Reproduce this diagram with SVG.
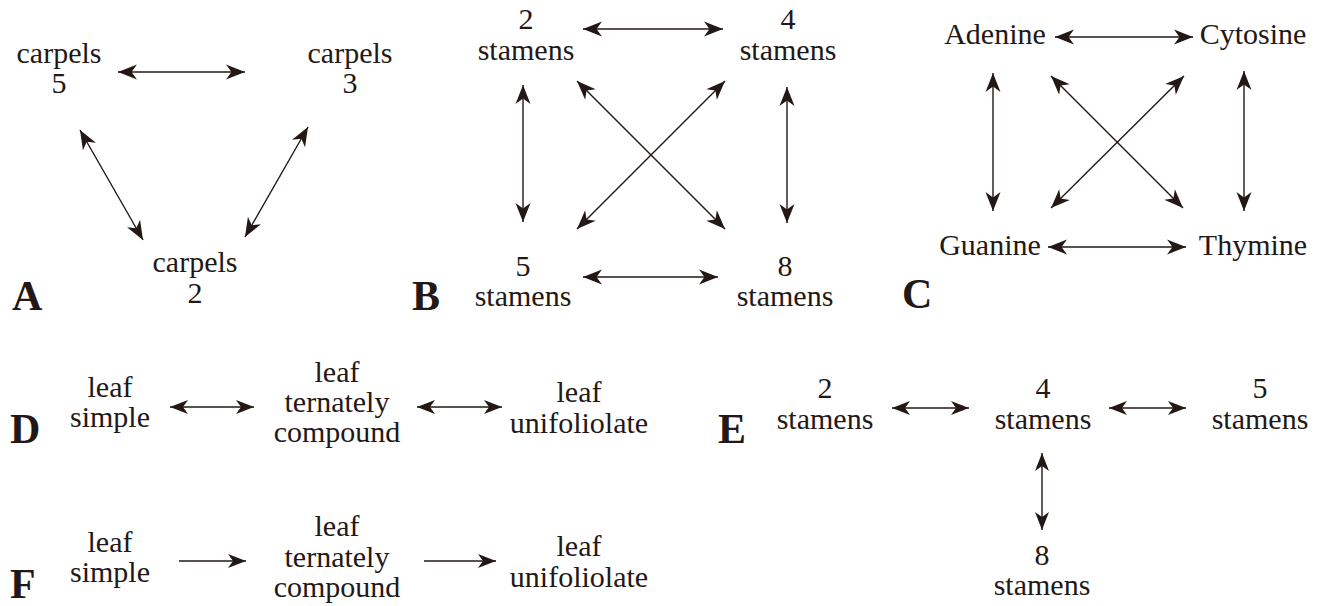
<svg xmlns="http://www.w3.org/2000/svg" width="1320" height="606" viewBox="0 0 1320 606">
<style>
text{font-family:"Liberation Serif","Times New Roman",serif;fill:#231815;}
.n{font-size:30px;text-anchor:middle;}
.lbl{font-size:42px;font-weight:bold;}
.c{stroke:#231815;stroke-width:1.4;fill:none;}
.big{marker-start:url(#hb);marker-end:url(#hb);}
.sm{marker-start:url(#hs);marker-end:url(#hs);}
.one{marker-end:url(#hs);}
</style>
<defs>
<marker id="hb" markerUnits="userSpaceOnUse" markerWidth="20" markerHeight="16" viewBox="0 0 20 16" refX="20" refY="8" orient="auto-start-reverse"><path d="M20,8 L1,0.5 L6.5,8 L1,15.5 Z" fill="#231815"/></marker>
<marker id="hs" markerUnits="userSpaceOnUse" markerWidth="19" markerHeight="15" viewBox="0 0 19 15" refX="19" refY="7.5" orient="auto-start-reverse"><path d="M19,7.5 L1,0.5 L6,7.5 L1,14.5 Z" fill="#231815"/></marker>
</defs>
<g id="connectors">
<line class="c big" x1="118" y1="72" x2="245" y2="72"/>
<line class="c big" x1="80" y1="130" x2="143" y2="240"/>
<line class="c big" x1="308" y1="127" x2="245" y2="237"/>
<line class="c big" x1="583" y1="29" x2="723" y2="29"/>
<line class="c big" x1="583" y1="277" x2="718" y2="277"/>
<line class="c big" x1="523" y1="85" x2="523" y2="222"/>
<line class="c big" x1="787" y1="87" x2="787" y2="223"/>
<line class="c big" x1="577" y1="81" x2="725" y2="229"/>
<line class="c big" x1="725" y1="81" x2="577" y2="229"/>
<line class="c big" x1="1055" y1="37" x2="1193" y2="37"/>
<line class="c big" x1="1048" y1="247" x2="1186" y2="247"/>
<line class="c big" x1="993" y1="73" x2="993" y2="211"/>
<line class="c big" x1="1244" y1="71" x2="1244" y2="211"/>
<line class="c big" x1="1051" y1="76" x2="1183" y2="208"/>
<line class="c big" x1="1184" y1="76" x2="1051" y2="208"/>
<line class="c sm" x1="170" y1="407" x2="254" y2="407"/>
<line class="c sm" x1="417" y1="407" x2="502" y2="407"/>
<line class="c sm" x1="892" y1="408" x2="969" y2="408"/>
<line class="c sm" x1="1109" y1="408" x2="1186" y2="408"/>
<line class="c sm" x1="1042" y1="453" x2="1042" y2="530"/>
<line class="c one" x1="179" y1="561" x2="246" y2="561"/>
<line class="c one" x1="424" y1="561" x2="496" y2="561"/>
</g>
<g id="panelA">
<text class="lbl" x="12" y="310">A</text>
<g id="A-carpels5"><text class="n" x="59" y="63">carpels</text><text class="n" x="59" y="93">5</text></g>
<g id="A-carpels3"><text class="n" x="350" y="63">carpels</text><text class="n" x="350" y="93">3</text></g>
<g id="A-carpels2"><text class="n" x="195" y="272">carpels</text><text class="n" x="195" y="303">2</text></g>
</g>
<g id="panelB">
<text class="lbl" x="412" y="310">B</text>
<g id="B-2stamens"><text class="n" x="526" y="29">2</text><text class="n" x="526" y="60">stamens</text></g>
<g id="B-4stamens"><text class="n" x="788" y="29">4</text><text class="n" x="788" y="60">stamens</text></g>
<g id="B-5stamens"><text class="n" x="523" y="276">5</text><text class="n" x="523" y="306">stamens</text></g>
<g id="B-8stamens"><text class="n" x="785" y="276">8</text><text class="n" x="785" y="306">stamens</text></g>
</g>
<g id="panelC">
<text class="lbl" x="902" y="308">C</text>
<g id="C-adenine"><text class="n" x="995" y="44">Adenine</text></g>
<g id="C-cytosine"><text class="n" x="1253" y="44">Cytosine</text></g>
<g id="C-guanine"><text class="n" x="990" y="255">Guanine</text></g>
<g id="C-thymine"><text class="n" x="1253" y="255">Thymine</text></g>
</g>
<g id="panelD">
<text class="lbl" x="10" y="443">D</text>
<g id="D-simple"><text class="n" x="110" y="397">leaf</text><text class="n" x="110" y="427">simple</text></g>
<g id="D-ternate"><text class="n" x="337" y="382">leaf</text><text class="n" x="337" y="412">ternately</text><text class="n" x="337" y="442">compound</text></g>
<g id="D-unifoliolate"><text class="n" x="579" y="402">leaf</text><text class="n" x="579" y="433">unifoliolate</text></g>
</g>
<g id="panelE">
<text class="lbl" x="718" y="443">E</text>
<g id="E-2stamens"><text class="n" x="825" y="398">2</text><text class="n" x="825" y="429">stamens</text></g>
<g id="E-4stamens"><text class="n" x="1043" y="398">4</text><text class="n" x="1043" y="429">stamens</text></g>
<g id="E-5stamens"><text class="n" x="1260" y="398">5</text><text class="n" x="1260" y="429">stamens</text></g>
<g id="E-8stamens"><text class="n" x="1042" y="565">8</text><text class="n" x="1042" y="595">stamens</text></g>
</g>
<g id="panelF">
<text class="lbl" x="10" y="598">F</text>
<g id="F-simple"><text class="n" x="110" y="552">leaf</text><text class="n" x="110" y="582">simple</text></g>
<g id="F-ternate"><text class="n" x="337" y="536">leaf</text><text class="n" x="337" y="567">ternately</text><text class="n" x="337" y="597">compound</text></g>
<g id="F-unifoliolate"><text class="n" x="579" y="556">leaf</text><text class="n" x="579" y="587">unifoliolate</text></g>
</g>
</svg>
